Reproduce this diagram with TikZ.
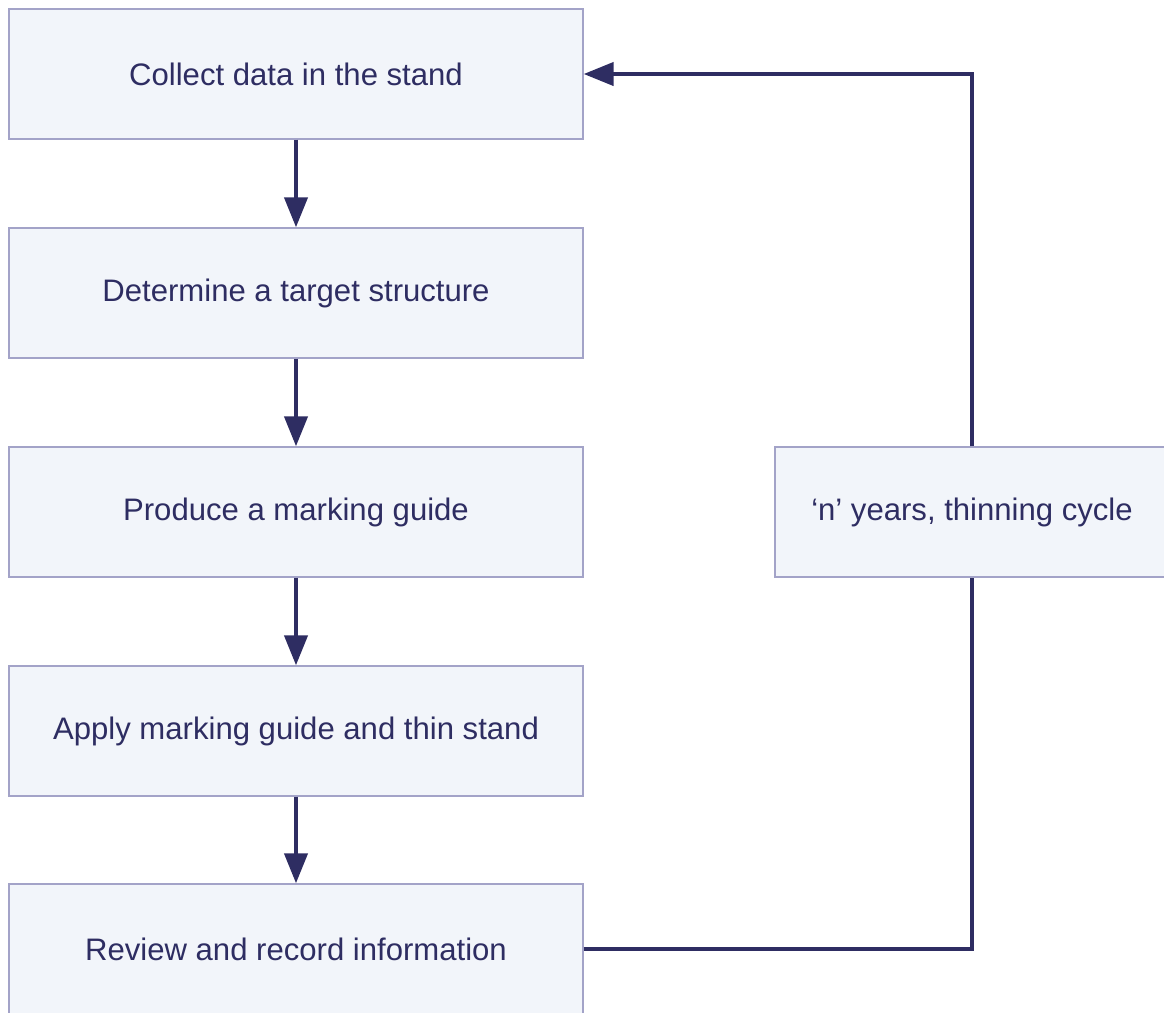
\documentclass[tikz,border=0pt]{standalone}
\usepackage{fontspec}
\setmainfont{Liberation Sans}
\usetikzlibrary{arrows.meta}
\definecolor{ink}{HTML}{2E2D62}
\definecolor{boxfill}{HTML}{F2F5FA}
\definecolor{boxline}{HTML}{A3A3C8}

\begin{document}
\begin{tikzpicture}[x=0.02cm, y=-0.02cm,
    stage/.style={draw=boxline, line width=0.8pt, fill=boxfill, text=ink,
        minimum width=11.48cm, minimum height=2.6cm, inner sep=0pt,
        font=\fontsize{17.7}{21}\selectfont},
    link/.style={draw=ink, line width=2.4pt},
    tip/.style={-{Triangle[length=0.6cm, width=0.46cm]}}]
    \clip (0,0) rectangle (1164,1012);
    % the five stages
    \node [stage] (collect) at (296,74) {Collect data in the stand};
    \node [stage] (target)  at (296,293) {Determine a target structure};
    \node [stage] (guide)   at (296,512) {Produce a marking guide};
    \node [stage] (apply)   at (296,731) {Apply marking guide and thin stand};
    \node [stage] (review)  at (296,949) {Review and record information};
    % cycle box on the right
    \node [stage, minimum width=7.88cm] (thinning) at (972,512) {‘n’ years, thinning cycle};
    \draw [link, tip] (collect) -- (target);
    \draw [link, tip] (target) -- (guide);
    \draw [link, tip] (guide) -- (apply);
    \draw [link, tip] (apply) -- (review);
    % loop back to the start
    \draw [link] (review.east) -| (thinning.south);
    \draw [link, tip] (thinning.north) |- (collect.east);
\end{tikzpicture}
\end{document}
